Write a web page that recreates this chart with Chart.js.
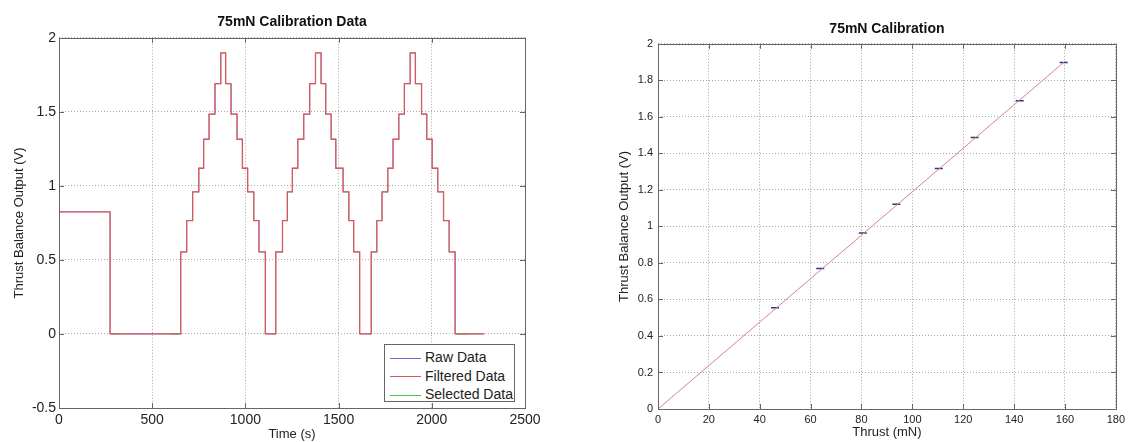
<!DOCTYPE html>
<html>
<head>
<meta charset="utf-8">
<title>75mN Calibration</title>
<script src="https://cdn.jsdelivr.net/npm/chart.js@4.4.0/dist/chart.umd.min.js"></script>
<style>
  body { margin: 0; background: #fff; width: 1129px; height: 442px; position: relative; overflow: hidden;
         font-family: "Liberation Sans", Arial, sans-serif; }
  #timeChart { position: absolute; left: 0; top: 0; }
  #calChart { position: absolute; left: 580px; top: 0; }
  #legend { position: absolute; left: 384px; top: 344px; width: 131px; height: 58px; box-sizing: border-box;
            border: 1px solid #666; background: #fff; font-size: 14px; color: #222; padding-top: 3px; }
  #legend .row { height: 18.5px; line-height: 18.5px; white-space: nowrap; }
  #legend .sw { display: inline-block; width: 31px; height: 1px; margin: 0 4px 0 5px; vertical-align: middle; }
</style>
</head>
<body>
<canvas id="timeChart" width="545" height="442"></canvas>
<canvas id="calChart" width="549" height="442"></canvas>
<div id="legend"></div>
<script>
// left plot: thrust balance output over time (value holds from each time until the next)
const stepTimes = [0, 274, 653, 685, 717, 750, 776, 805, 837, 868, 894, 923, 955, 984, 1012, 1045, 1073,
  1107, 1163, 1199, 1225, 1252, 1281, 1313, 1345, 1376, 1406, 1431, 1460, 1485, 1524, 1555, 1581,
  1613, 1675, 1705, 1733, 1764, 1792, 1823, 1853, 1884, 1912, 1945, 1973, 2002, 2032, 2063, 2093,
  2125, 2281];
const stepVolts = [0.825, 0, 0.554, 0.766, 0.960, 1.119, 1.315, 1.485, 1.690, 1.898, 1.690, 1.485, 1.315, 1.119, 0.960, 0.766, 0.554,
  0, 0.554, 0.766, 0.960, 1.119, 1.315, 1.485, 1.690, 1.898, 1.690, 1.485, 1.315, 1.119, 0.960, 0.766, 0.554,
  0, 0.554, 0.766, 0.960, 1.119, 1.315, 1.485, 1.690, 1.898, 1.690, 1.485, 1.315, 1.119, 0.960, 0.766, 0.554,
  0, 0];

// selected windows (start, end, level)
const selFrom  = [277, 596, 678, 710, 743, 769, 798, 830, 861, 887, 916, 948, 977, 1005, 1038, 1066, 1100,
  1150, 1192, 1218, 1245, 1274, 1306, 1338, 1369, 1399, 1424, 1453, 1478, 1517, 1548, 1574, 1606,
  1662, 1698, 1726, 1757, 1785, 1816, 1846, 1877, 1905, 1938, 1966, 1995, 2025, 2056, 2086, 2118, 2128];
const selTo    = [318, 650, 684, 716, 749, 775, 804, 836, 867, 893, 922, 954, 983, 1011, 1044, 1072, 1106,
  1162, 1198, 1224, 1251, 1280, 1312, 1344, 1375, 1405, 1430, 1459, 1484, 1523, 1554, 1580, 1612,
  1674, 1704, 1732, 1763, 1791, 1822, 1852, 1883, 1911, 1944, 1972, 2001, 2031, 2062, 2092, 2124, 2190];
const selLevel = [0, 0, 0.554, 0.766, 0.960, 1.119, 1.315, 1.485, 1.690, 1.898, 1.690, 1.485, 1.315, 1.119, 0.960, 0.766, 0.554,
  0, 0.554, 0.766, 0.960, 1.119, 1.315, 1.485, 1.690, 1.898, 1.690, 1.485, 1.315, 1.119, 0.960, 0.766, 0.554,
  0, 0.554, 0.766, 0.960, 1.119, 1.315, 1.485, 1.690, 1.898, 1.690, 1.485, 1.315, 1.119, 0.960, 0.766, 0.554, 0];

const timeTicks = [0, 500, 1000, 1500, 2000, 2500];
const voltTicks = [-0.5, 0, 0.5, 1, 1.5, 2];

// right plot: calibration points and linear fit
const thrustMN = [46, 63.8, 80.5, 93.7, 110.4, 124.5, 142.2, 159.5];
const outputV  = [0.555, 0.769, 0.964, 1.121, 1.317, 1.487, 1.688, 1.898];
const fitThrust = [0, 160];
const fitOutput = [0, 1.904];

const seriesNames = ['Raw Data', 'Filtered Data', 'Selected Data'];
const seriesColors = ['#6a6ad6', '#d65a5a', '#4cc04c'];

Chart.defaults.font.family = '"Liberation Sans", Arial, sans-serif';
Chart.defaults.color = '#222';

// matlab style box with inward ticks
const boxPlugin = {
  id: 'boxPlugin',
  afterDatasetsDraw(chart) {
    const { ctx, chartArea: a, scales: { x, y } } = chart;
    ctx.save();
    ctx.strokeStyle = '#666';
    ctx.lineWidth = 1;
    ctx.strokeRect(Math.round(a.left) + 0.5, Math.round(a.top) + 0.5,
      Math.round(a.right - a.left), Math.round(a.bottom - a.top));
    ctx.beginPath();
    x.ticks.forEach(t => {
      const px = Math.round(x.getPixelForValue(t.value)) + 0.5;
      ctx.moveTo(px, a.bottom); ctx.lineTo(px, a.bottom - 5);
      ctx.moveTo(px, a.top); ctx.lineTo(px, a.top + 5);
    });
    y.ticks.forEach(t => {
      const py = Math.round(y.getPixelForValue(t.value)) + 0.5;
      ctx.moveTo(a.left, py); ctx.lineTo(a.left + 5, py);
      ctx.moveTo(a.right, py); ctx.lineTo(a.right - 5, py);
    });
    ctx.stroke();
    ctx.restore();
  }
};

const gridOpts = { color: '#a8a8a8', lineWidth: 1, drawTicks: false };
const borderOpts = { display: false, dash: [1, 2] };

function pts(xs, ys) {
  return xs.map((v, i) => ({ x: v, y: ys[i] }));
}

const selPoints = [];
selFrom.forEach((s, i) => {
  selPoints.push({ x: s, y: selLevel[i] }, { x: selTo[i], y: selLevel[i] }, { x: selTo[i], y: null });
});

new Chart(document.getElementById('timeChart'), {
  type: 'line',
  data: {
    datasets: [
      { label: seriesNames[0], data: pts(stepTimes, stepVolts), borderColor: seriesColors[0], borderWidth: 0.8,
        stepped: 'before', pointRadius: 0, order: 3 },
      { label: seriesNames[1], data: pts(stepTimes, stepVolts), borderColor: seriesColors[1], borderWidth: 1.3,
        stepped: 'before', pointRadius: 0, order: 1 },
      { label: seriesNames[2], data: selPoints, borderColor: seriesColors[2], borderWidth: 1,
        pointRadius: 0, spanGaps: false, order: 2 }
    ]
  },
  options: {
    responsive: false,
    animation: false,
    layout: { padding: { top: 0, right: 20, bottom: 0, left: 0 } },
    plugins: {
      legend: { display: false },
      tooltip: { enabled: false },
      title: { display: true, text: '75mN Calibration Data', fullSize: false, color: '#111',
        font: { size: 14, weight: 'bold' }, padding: { top: 14, bottom: 7 } }
    },
    scales: {
      x: {
        type: 'linear', min: 0, max: 2500,
        afterBuildTicks: s => { s.ticks = timeTicks.map(v => ({ value: v })); },
        afterFit: s => { s.height = 34; },
        ticks: { font: { size: 14 }, padding: 4, maxRotation: 0, callback: v => String(v) },
        grid: gridOpts, border: borderOpts,
        title: { display: true, text: 'Time (s)', font: { size: 13 }, padding: { top: 0, bottom: 0 } }
      },
      y: {
        min: -0.5, max: 2,
        afterBuildTicks: s => { s.ticks = voltTicks.map(v => ({ value: v })); },
        afterFit: s => { s.width = 59; },
        ticks: { font: { size: 14 }, padding: 3, callback: v => String(v) },
        grid: gridOpts, border: borderOpts,
        title: { display: true, text: 'Thrust Balance Output (V)', font: { size: 13 }, padding: { top: 12, bottom: 0 } }
      }
    }
  },
  plugins: [boxPlugin]
});

new Chart(document.getElementById('calChart'), {
  type: 'line',
  data: {
    datasets: [
      { label: 'Calibration points', data: pts(thrustMN, outputV), showLine: false, pointStyle: 'line',
        pointRadius: 4, pointBorderWidth: 1.5, borderColor: '#34347e', backgroundColor: '#34347e', order: 2 },
      { label: 'Linear fit', data: pts(fitThrust, fitOutput), borderColor: '#d4828c', borderWidth: 1,
        pointRadius: 0, order: 1 }
    ]
  },
  options: {
    responsive: false,
    animation: false,
    layout: { padding: { top: 0, right: 12, bottom: 0, left: 0 } },
    plugins: {
      legend: { display: false },
      tooltip: { enabled: false },
      title: { display: true, text: '75mN Calibration', fullSize: false, color: '#111',
        font: { size: 14, weight: 'bold' }, padding: { top: 21, bottom: 6 } }
    },
    scales: {
      x: {
        type: 'linear', min: 0, max: 180,
        ticks: { stepSize: 20, font: { size: 11 }, padding: 4, maxRotation: 0, callback: v => String(v) },
        afterFit: s => { s.height = 33; },
        grid: gridOpts, border: borderOpts,
        title: { display: true, text: 'Thrust (mN)', font: { size: 13 }, padding: { top: 0, bottom: 2 } }
      },
      y: {
        min: 0, max: 2,
        ticks: { stepSize: 0.2, font: { size: 11 }, padding: 5, callback: v => String(v) },
        afterFit: s => { s.width = 78; },
        grid: gridOpts, border: borderOpts,
        title: { display: true, text: 'Thrust Balance Output (V)', font: { size: 13 }, padding: { top: 37, bottom: 0 } }
      }
    }
  },
  plugins: [boxPlugin]
});

// legend drawn in html inside the left plot
const legend = document.getElementById('legend');
seriesNames.forEach((name, i) => {
  const row = document.createElement('div');
  row.className = 'row';
  const sw = document.createElement('span');
  sw.className = 'sw';
  sw.style.background = seriesColors[i];
  row.appendChild(sw);
  row.appendChild(document.createTextNode(name));
  legend.appendChild(row);
});
</script>
</body>
</html>
